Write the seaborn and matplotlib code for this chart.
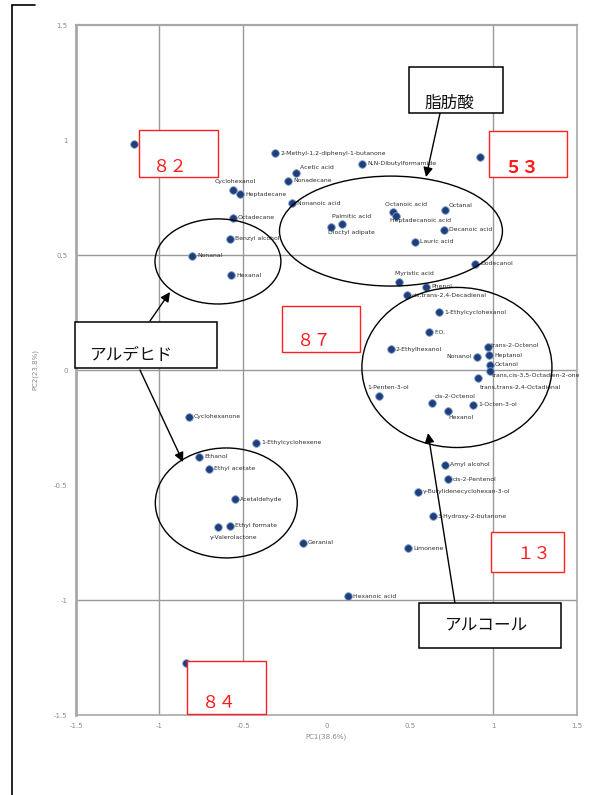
import matplotlib
matplotlib.use("Agg")
import matplotlib.pyplot as plt
import numpy as np
import pandas as pd
import seaborn as sns
from matplotlib.patches import Ellipse, Rectangle
from matplotlib.lines import Line2D

# ---- PCA loadings ---------------------------------------------------------
compounds = [
    "", "2-Methyl-1,2-diphenyl-1-butanone", "N,N-Dibutylformamide", "Acetic acid",
    "Cyclohexanol", "Heptadecane", "Nonadecane", "Nonanoic acid", "Octadecane",
    "Benzyl alcohol", "Nonanal", "Hexanal", "Palmitic acid", "Dioctyl adipate",
    "Octanoic acid", "Heptadecanoic acid", "Octanal", "Decanoic acid", "Lauric acid",
    "Dodecanol", "Myristic acid", "Phenol", "cis,trans-2,4-Decadienal",
    "1-Ethylcyclohexanol", "F.O.", "2-Ethylhexanol", "Nonanol", "trans-2-Octenol",
    "Heptanol", "Octanol", "trans,trans-2,4-Octadienal", "trans,cis-3,5-Octadien-2-one",
    "1-Penten-3-ol", "cis-2-Octenol", "1-Octen-3-ol", "Hexanol", "Cyclohexanone",
    "1-Ethylcyclohexene", "Ethanol", "Ethyl acetate", "Acetaldehyde", "Ethyl formate",
    "γ-Valerolactone", "Geranial", "Amyl alcohol", "cis-2-Pentenol",
    "γ-Butylidenecyclohexan-3-ol", "3-Hydroxy-2-butanone", "Limonene", "Hexanoic acid",
    "", "",
]
pc1 = [
    -1.153, -0.308, 0.213, -0.183,
    -0.560, -0.518, -0.230, -0.207, -0.560,
    -0.578, -0.805, -0.572, 0.093, 0.027,
    0.398, 0.416, 0.710, 0.704, 0.530,
    0.889, 0.434, 0.596, 0.482,
    0.674, 0.614, 0.386, 0.901, 0.967,
    0.973, 0.979, 0.907, 0.979,
    0.314, 0.632, 0.877, 0.728, -0.823,
    -0.422, -0.763, -0.704, -0.548, -0.578,
    -0.650, -0.141, 0.710, 0.728,
    0.548, 0.638, 0.488, 0.129,
    -0.840, 0.919,
]
pc2 = [
    0.983, 0.943, 0.896, 0.857,
    0.783, 0.765, 0.822, 0.726, 0.661,
    0.570, 0.496, 0.413, 0.635, 0.622,
    0.687, 0.670, 0.696, 0.609, 0.557,
    0.461, 0.383, 0.361, 0.326,
    0.252, 0.165, 0.091, 0.057, 0.100,
    0.065, 0.022, -0.035, -0.004,
    -0.113, -0.143, -0.152, -0.178, -0.204,
    -0.317, -0.378, -0.430, -0.561, -0.678,
    -0.683, -0.752, -0.413, -0.474,
    -0.530, -0.635, -0.774, -0.983,
    -1.274, 0.926,
]

tick_values = [-1.5, -1, -0.5, 0, 0.5, 1, 1.5]
tick_labels = ["-1.5", "-1", "-0.5", "0", "0.5", "1", "1.5"]
x_title = "PC1(38.6%)"
y_title = "PC2(23.8%)"

# group annotations
group_names = ["脂肪酸", "アルデヒド", "アルコール"]
sample_numbers = ["８２", "５３", "８７", "１３", "８４"]

# label placement (pixel offsets from the point; default is right of the point)
label_offsets = {
    "Cyclohexanol": (2, 8, "center"),
    "Acetic acid": (4, 5, "left"),
    "Palmitic acid": (-10, 7, "left"),
    "Dioctyl adipate": (-3, -6, "left"),
    "Octanoic acid": (-8, 7, "left"),
    "Heptadecanoic acid": (-6, -5, "left"),
    "Octanal": (4, 4, "left"),
    "Myristic acid": (-4, 8, "left"),
    "Nonanol": (-5, 0, "right"),
    "trans-2-Octenol": (3, 2, "left"),
    "trans,trans-2,4-Octadienal": (2, -9, "left"),
    "trans,cis-3,5-Octadien-2-one": (2, -4, "left"),
    "1-Penten-3-ol": (-12, 8, "left"),
    "cis-2-Octenol": (3, 6, "left"),
    "Hexanol": (0, -7, "left"),
    "γ-Valerolactone": (-8, -10, "left"),
}

sns.set_style("white")
plt.rcParams["font.family"] = ["DejaVu Sans", "Noto Sans CJK JP"]

W, H = 596, 795
fig = plt.figure(figsize=(W / 100, H / 100), dpi=100)
fig.patch.set_facecolor("white")
ax = fig.add_axes([76 / W, 1 - 715 / H, (577 - 76) / W, (715 - 25) / H])

df = pd.DataFrame({"compound": compounds, "PC1": pc1, "PC2": pc2})

ax.set_xlim(-1.5, 1.5)
ax.set_ylim(-1.5, 1.5)

# reference lines
for v in [-1, -0.5, 1]:
    ax.axvline(v, color="#999999", lw=1.0, zorder=1)
for h in [0.5, 0, -1]:
    ax.axhline(h, color="#999999", lw=1.0, zorder=1)

sns.scatterplot(data=df, x="PC1", y="PC2", ax=ax, s=30, color="#1f3f7a",
                edgecolor="#7f9fd0", linewidth=0.6, zorder=3, legend=False)

for name, x, y in zip(df["compound"], df["PC1"], df["PC2"]):
    if not name:
        continue
    dx, dy, ha = label_offsets.get(name, (5, 0, "left"))
    ax.annotate(name, (x, y), xytext=(dx, dy), textcoords="offset pixels",
                fontsize=4.4, color="#2e2e2e", ha=ha, va="center", zorder=4)

# axes styling
ax.set_xticks(tick_values)
ax.set_xticklabels(tick_labels)
ax.set_yticks(tick_values)
ax.set_yticklabels(tick_labels)
ax.set_xticks(np.arange(-1.5, 1.51, 0.1), minor=True)
ax.set_yticks(np.arange(-1.5, 1.51, 0.1), minor=True)
ax.tick_params(axis="both", which="major", labelsize=5, colors="#8a8a8a",
               length=3, width=0.8, direction="out", pad=3)
ax.tick_params(axis="both", which="minor", length=2, width=0.6,
               color="#a0a0a0", direction="out")
for side, sp in ax.spines.items():
    sp.set_color("#a8a8a8")
    sp.set_linewidth(1.2)
ax.spines["left"].set_linewidth(2.0)
ax.spines["top"].set_linewidth(1.6)
ax.set_xlabel(x_title, fontsize=5, color="#8a8a8a", labelpad=3)
ax.set_ylabel(y_title, fontsize=5, color="#8a8a8a", labelpad=11)

# group outlines
ellipse_specs = [
    ((0.386, 0.604), 1.335, 0.478),
    ((-0.650, 0.472), 0.754, 0.370),
    ((0.781, 0.011), 1.138, 0.696),
    ((-0.600, -0.578), 0.850, 0.478),
]
for (cx, cy), w, h in ellipse_specs:
    ax.add_patch(Ellipse((cx, cy), w, h, fill=False, edgecolor="black",
                         lw=1.0, zorder=5, clip_on=False))

# callout boxes with group names
callouts = [
    ((0.494, 1.117), 0.563, 0.200, (0.734, 1.161)),
    ((-1.506, 0.009), 0.850, 0.200, (-1.165, 0.061)),
    ((0.554, -1.209), 0.850, 0.196, (0.955, -1.109)),
]
for (bx, by), bw, bh, _ in callouts:
    ax.add_patch(Rectangle((bx, by), bw, bh, facecolor="white", edgecolor="black",
                           lw=1.1, zorder=7, clip_on=False))
for name, (_, _, _, (tx, ty)) in zip(group_names, callouts):
    ax.text(tx, ty, name, fontsize=12, family=["Noto Sans CJK JP"], color="#111111",
            ha="center", va="center", zorder=8)

arrows = [
    ((0.680, 1.117), (0.596, 0.839)),
    ((-1.057, 0.213), (-0.937, 0.339)),
    ((-1.117, 0.000), (-0.859, -0.400)),
    ((0.769, -1.013), (0.608, -0.274)),
]
for start, end in arrows:
    ax.annotate("", xy=end, xytext=start,
                arrowprops=dict(arrowstyle="-|>", color="black", lw=1.0,
                                mutation_scale=14, shrinkA=0, shrinkB=0),
                zorder=6, annotation_clip=False)

# sample number boxes
number_boxes = [
    ((-1.123, 0.839), 0.473, 0.204, (-0.937, 0.861), "normal"),
    ((0.973, 0.839), 0.467, 0.200, (1.168, 0.857), "bold"),
    ((-0.266, 0.078), 0.466, 0.200, (-0.075, 0.104), "normal"),
    ((0.985, -0.878), 0.437, 0.174, (1.243, -0.822), "normal"),
    ((-0.835, -1.496), 0.473, 0.231, (-0.644, -1.470), "normal"),
]
for label, ((bx, by), bw, bh, (tx, ty), weight) in zip(sample_numbers, number_boxes):
    ax.add_patch(Rectangle((bx, by), bw, bh, facecolor="white", edgecolor="#ff2020",
                           lw=1.0, zorder=7, clip_on=False))
    ax.text(tx, ty, label, fontsize=12.5, family=["Noto Sans CJK JP"], color="#ff1a1a",
            fontweight=weight, ha="center", va="baseline", zorder=8)

# page frame
fig.add_artist(Line2D([12 / W, 12 / W], [0, 1 - 5 / H], color="black", lw=1.2,
                      transform=fig.transFigure))
fig.add_artist(Line2D([12 / W, 35 / W], [1 - 5 / H, 1 - 5 / H], color="black", lw=1.2,
                      transform=fig.transFigure))

fig.savefig("out.png", dpi=100)
